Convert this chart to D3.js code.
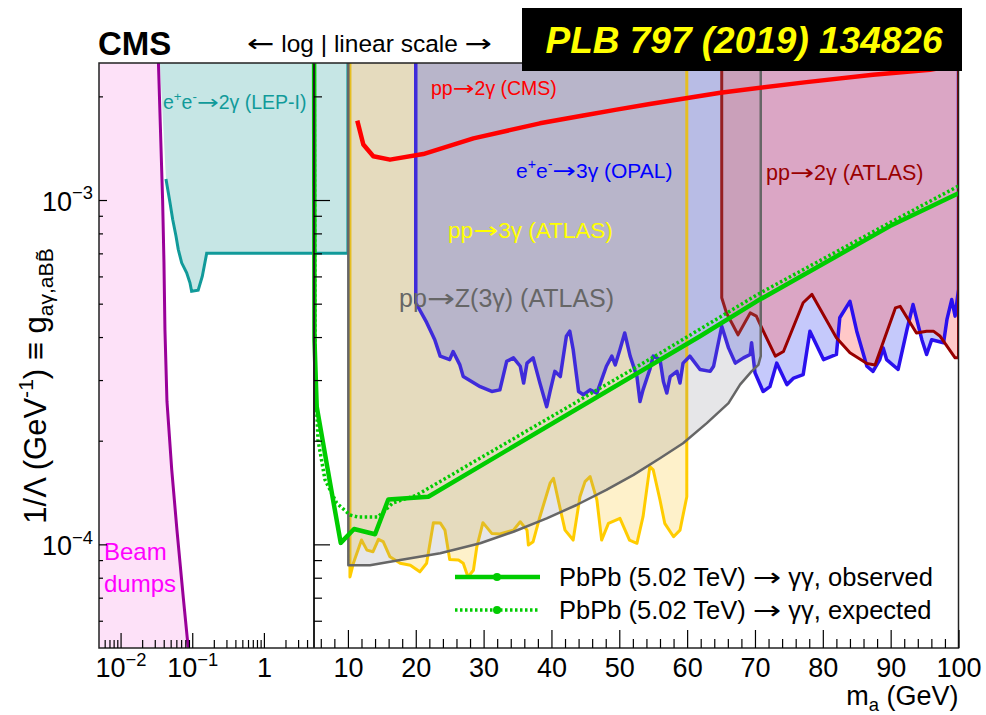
<!DOCTYPE html>
<html>
<head>
<meta charset="utf-8">
<script src="https://cdn.jsdelivr.net/npm/d3@7"></script>
<style>
    body { margin: 0; background: #fff; }
    svg { display: block; font-family: "Liberation Sans", Arial, Helvetica, sans-serif; }
</style>
</head>
<body>
<svg id="chart" width="986" height="715"></svg>
<script>
// ===== Data: [mass m_a (GeV), coupling 1/Λ (GeV^-1)] =====
const beamDumps = [
    [0.0315, 4.0e-3], [0.0386, 1.0e-3], [0.0403, 6.6e-4], [0.0416, 4.2e-4],
    [0.0444, 2.6e-4], [0.0517, 1.65e-4], [0.0612, 1.1e-4], [0.075, 7.0e-5],
    [0.0879, 5.0e-5], [0.092, 4.5e-5]
];

const lepLimit = [
    [0.0430, 1.15e-3], [0.0489, 9.83e-4], [0.0533, 8.79e-4], [0.0593, 7.86e-4],
    [0.0638, 7.19e-4], [0.0712, 6.57e-4], [0.0836, 6.15e-4], [0.0929, 5.75e-4],
    [0.098, 5.43e-4], [0.121, 5.47e-4], [0.138, 6.0e-4], [0.159, 7.0e-4],
    [10.0, 7.0e-4]
];

const opalLimit = [
    [20.0, 5.03e-4], [21.6, 4.41e-4], [22.8, 3.93e-4], [23.6, 3.52e-4], [25.0, 3.44e-4],
    [25.5, 3.63e-4], [26.5, 3.32e-4], [27.0, 3.07e-4], [29.5, 2.87e-4], [31.2, 2.78e-4],
    [32.4, 2.81e-4], [33.4, 3.40e-4], [34.4, 3.48e-4], [35.4, 3.29e-4], [35.9, 2.94e-4],
    [36.4, 3.36e-4], [37.3, 3.48e-4], [38.3, 2.94e-4], [39.3, 2.51e-4], [39.8, 2.78e-4],
    [40.5, 3.18e-4], [41.3, 3.07e-4], [42.2, 4.02e-4], [42.7, 4.16e-4], [43.2, 3.68e-4],
    [44.0, 2.78e-4], [44.7, 2.72e-4], [45.7, 2.81e-4], [46.7, 2.75e-4], [47.4, 3.01e-4],
    [48.1, 3.29e-4], [48.9, 3.52e-4], [49.4, 3.32e-4], [50.1, 3.68e-4], [50.8, 4.11e-4],
    [51.6, 3.52e-4], [52.6, 3.07e-4], [53.05, 2.60e-4], [53.5, 2.81e-4], [54.5, 3.22e-4],
    [55.0, 3.52e-4], [56.0, 3.44e-4], [56.5, 2.97e-4], [57.0, 2.75e-4], [57.5, 3.07e-4],
    [58.5, 3.18e-4], [58.95, 2.94e-4], [59.4, 3.36e-4], [60.4, 3.52e-4], [61.9, 3.22e-4],
    [63.4, 3.18e-4], [63.9, 3.29e-4], [65.1, 4.30e-4], [66.1, 3.72e-4], [67.1, 3.36e-4],
    [68.3, 3.48e-4], [69.3, 3.56e-4], [69.5, 3.85e-4], [70.0, 3.15e-4], [71.2, 2.78e-4],
    [72.2, 2.87e-4], [73.2, 3.36e-4], [74.7, 2.91e-4], [75.7, 3.04e-4], [77.1, 3.11e-4],
    [78.1, 4.16e-4], [80.1, 3.44e-4], [82.0, 3.56e-4], [82.5, 4.55e-4], [84.0, 5.08e-4],
    [85.0, 4.16e-4], [86.5, 3.29e-4], [87.4, 3.18e-4], [88.4, 3.44e-4], [88.9, 3.72e-4],
    [89.4, 3.44e-4], [91.1, 3.22e-4], [92.4, 4.20e-4], [93.3, 4.97e-4], [94.6, 3.93e-4],
    [95.3, 3.56e-4], [96.05, 3.93e-4], [97.8, 3.85e-4], [98.3, 4.50e-4], [99.0, 5.14e-4],
    [99.5, 4.60e-4], [100.0, 5.5e-4]
];

const atlas2gLimit = [
    [65.1, 5.2e-4], [65.8, 4.7e-4], [67.5, 4.06e-4], [69.3, 4.7e-4], [70.2, 4.6e-4],
    [71.0, 4.25e-4], [73.0, 3.52e-4], [74.2, 3.63e-4], [77.1, 5.03e-4], [78.4, 5.32e-4],
    [82.0, 3.98e-4], [84.0, 3.6e-4], [86.5, 3.35e-4], [87.7, 3.32e-4], [90.7, 4.86e-4],
    [91.4, 4.91e-4], [93.8, 4.11e-4], [95.3, 4.16e-4], [96.3, 4.16e-4], [97.3, 4.02e-4],
    [99.5, 3.48e-4], [100.0, 3.48e-4]
];

const atlas3gLimit = [
    [10.3, 8.04e-5], [10.8, 8.81e-5], [12.0, 1.03e-4], [12.8, 9.62e-5], [13.7, 9.52e-5],
    [14.5, 1.034e-4], [15.2, 1.018e-4], [16.2, 9.2e-5], [17.7, 8.81e-5], [19.2, 8.7e-5],
    [20.6, 8.32e-5], [21.6, 8.81e-5], [22.6, 1.156e-4], [23.6, 1.154e-4], [24.3, 1.10e-4],
    [25.0, 9.04e-5], [26.3, 9.0e-5], [27.0, 8.81e-5], [27.7, 8.04e-5], [28.5, 8.41e-5],
    [29.0, 9.84e-5], [29.9, 1.156e-4], [31.2, 1.076e-4], [32.4, 1.072e-4], [34.4, 1.10e-4],
    [35.4, 1.163e-4], [36.4, 1.10e-4], [36.6, 9.95e-5], [37.3, 1.018e-4], [38.3, 1.203e-4],
    [39.8, 1.505e-4], [40.3, 1.556e-4], [41.0, 1.345e-4], [42.0, 1.10e-4], [43.2, 1.029e-4],
    [44.2, 1.375e-4], [44.95, 1.521e-4], [45.7, 1.573e-4], [46.7, 1.345e-4], [47.4, 1.029e-4],
    [48.4, 1.151e-4], [50.1, 1.19e-4], [51.5, 1.029e-4], [52.6, 1.007e-4], [53.5, 1.203e-4],
    [54.5, 1.682e-4], [55.0, 1.645e-4], [56.0, 1.345e-4], [56.7, 1.151e-4], [58.0, 1.052e-4],
    [58.95, 1.10e-4], [59.95, 1.375e-4]
];

const atlasZ3gLimit = [
    [10.06, 8.7e-5], [13.25, 8.7e-5], [17.7, 9.0e-5], [23.6, 9.42e-5], [29.5, 1.007e-4],
    [34.4, 1.088e-4], [39.3, 1.19e-4], [43.7, 1.301e-4], [48.1, 1.439e-4], [52.1, 1.591e-4],
    [56.0, 1.779e-4], [59.4, 1.967e-4], [62.9, 2.25e-4], [66.1, 2.57e-4], [67.8, 2.91e-4],
    [69.5, 3.18e-4], [70.5, 3.32e-4], [70.85, 3.52e-4]
];

const cmsPP2g = [
    [11.38, 1.70e-3], [12.27, 1.45e-3], [13.74, 1.34e-3], [16.2, 1.31e-3], [21.1, 1.36e-3],
    [28.5, 1.51e-3], [38.3, 1.67e-3], [44.7, 1.76e-3], [49.6, 1.83e-3], [54.5, 1.90e-3],
    [64.9, 2.05e-3], [77.6, 2.20e-3], [87.4, 2.31e-3], [95.8, 2.39e-3], [100, 2.47e-3]
];

const pbpbObserved = [
    [5.0, 5.0e-3], [5.07, 3.93e-4], [5.4, 2.51e-4], [7.36, 1.51e-4], [8.94, 1.01e-4],
    [10.9, 1.108e-4], [14.0, 1.07e-4], [15.95, 1.35e-4], [21.85, 1.375e-4], [61.9, 4.02e-4],
    [70.25, 5.08e-4], [89.9, 8.4e-4], [100, 1.046e-3]
];

const pbpbExpected = [
    [5.0, 5.0e-3], [5.15, 3.22e-4], [5.59, 2.01e-4], [6.62, 1.54e-4], [8.34, 1.318e-4],
    [10.3, 1.217e-4], [11.5, 1.20e-4], [14.4, 1.20e-4], [16.65, 1.32e-4], [20.15, 1.39e-4],
    [55.7, 3.56e-4], [70.4, 5.32e-4], [89.9, 8.6e-4], [100, 1.098e-3]
];

// tick values
const xLogMajor = [0.01, 0.1, 1];
const xLogMinor = [0.006, 0.007, 0.008, 0.009, 0.02, 0.03, 0.04, 0.05, 0.06, 0.07, 0.08, 0.09,
    0.2, 0.3, 0.4, 0.5, 0.6, 0.7, 0.8, 0.9, 2, 3, 4];
const xLinMajor = [10, 20, 30, 40, 50, 60, 70, 80, 90, 100];
const xLinMinor = d3.range(6, 100, 2).filter(v => v % 10 !== 0);
const yMajor = [1e-4, 1e-3];
const yMinor = [6e-5, 7e-5, 8e-5, 9e-5, 2e-4, 3e-4, 4e-4, 5e-4, 6e-4, 7e-4, 8e-4, 9e-4, 2e-3];

// ===== Layout =====
const frame = { left: 99, right: 958.5, top: 63, bottom: 648 };
const xSplit = 314;
const TOP = 4e-3;           // excluded regions run off the top of the frame
const FS = 27;
const ARROW_FONT = '"DejaVu Sans", sans-serif';

const svg = d3.select('#chart');

// ===== Scales: log below 5 GeV, linear above =====
const xLog = d3.scaleLog().domain([0.005, 5]).range([frame.left, xSplit]);
const xLin = d3.scaleLinear().domain([5, 100]).range([xSplit, frame.right]);
const x = m => m < 5 ? xLog(m) : xLin(m);
const y = d3.scaleLog().domain([5e-5, 2.5e-3]).range([frame.bottom, frame.top]);

const line = d3.line().x(d => x(d[0])).y(d => y(d[1]));

// excluded area lies above the limit curve
function upTo(pts) {
    return [[pts[0][0], TOP], ...pts, [pts[pts.length - 1][0], TOP]];
}

// text with super/subscripts; arrows stretched to look like ROOT's long arrow
function addRich(parent, parts, fs) {
    let shift = 0;
    parts.forEach(([str, kind]) => {
        const target = kind === 'sup' ? -0.42 * fs : kind === 'sub' ? 0.24 * fs : 0;
        const size = kind ? fs * 0.68 : fs;
        str.split(/([←→])/).filter(s => s !== '').forEach((seg, i) => {
            const t = parent.append('tspan').attr('font-size', size).text(seg);
            if (/[←→]/.test(seg)) {
                t.attr('font-family', ARROW_FONT)
                    .attr('textLength', size * 1.12)
                    .attr('lengthAdjust', 'spacingAndGlyphs');
            }
            if (i === 0 && target - shift !== 0) t.attr('dy', target - shift);
        });
        shift = target;
    });
}

// ===== Plot area =====
svg.append('defs').append('clipPath').attr('id', 'plot-clip')
    .append('rect')
    .attr('x', frame.left).attr('y', frame.top)
    .attr('width', frame.right - frame.left)
    .attr('height', frame.bottom - frame.top);

const plot = svg.append('g').attr('clip-path', 'url(#plot-clip)');

// LEP-I e+e- -> 2 gamma
plot.append('path')
    .attr('d', line([[0.0315, TOP], ...lepLimit, [10.0, TOP]]) + 'Z')
    .attr('fill', '#c6e6e5');
plot.append('path')
    .attr('d', line([...lepLimit, [10.0, TOP]]))
    .attr('fill', 'none').attr('stroke', '#119a9a').attr('stroke-width', 3);

// Beam dumps
plot.append('path')
    .attr('d', line([[0.004, TOP], ...beamDumps, [0.004, 4.5e-5]]) + 'Z')
    .attr('fill', '#fde1f8');
plot.append('path')
    .attr('d', line(beamDumps))
    .attr('fill', 'none').attr('stroke', '#990099').attr('stroke-width', 3);

// translucent fills
const fills = [
    { pts: atlas3gLimit, fill: 'rgba(250,200,50,0.26)' },
    { pts: opalLimit, fill: 'rgba(95,105,245,0.36)' },
    { pts: atlas2gLimit, fill: 'rgba(255,110,110,0.38)' }
];
fills.forEach(f => {
    plot.append('path').attr('d', line(upTo(f.pts)) + 'Z').attr('fill', f.fill);
});

// limit lines
const limits = [
    { pts: atlas3gLimit, color: '#ffcc00', w: 3 },
    { pts: opalLimit, color: '#2a10ee', w: 3.5 },
    { pts: atlas2gLimit, color: '#990000', w: 3 }
];
limits.forEach(l => {
    plot.append('path').attr('d', line(upTo(l.pts)))
        .attr('fill', 'none').attr('stroke', l.color).attr('stroke-width', l.w)
        .attr('stroke-linejoin', 'round');
});

// ATLAS Z(3 gamma) sits on top and greys the lines below
plot.append('path').attr('d', line(upTo(atlasZ3gLimit)) + 'Z')
    .attr('fill', 'rgba(140,140,150,0.22)');
plot.append('path').attr('d', line(upTo(atlasZ3gLimit)))
    .attr('fill', 'none').attr('stroke', '#666').attr('stroke-width', 2.5)
    .attr('stroke-linejoin', 'round');

// CMS pp -> 2 gamma
plot.append('path').attr('d', line(cmsPP2g))
    .attr('fill', 'none').attr('stroke', '#ff0000').attr('stroke-width', 4.5)
    .attr('stroke-linejoin', 'round');

// PbPb limits
plot.append('path').attr('d', line(pbpbExpected))
    .attr('fill', 'none').attr('stroke', '#00cc00').attr('stroke-width', 3.5)
    .attr('stroke-dasharray', '2.5,2.5');
plot.append('path').attr('d', line(pbpbObserved))
    .attr('fill', 'none').attr('stroke', '#00cc00').attr('stroke-width', 4.5)
    .attr('stroke-linejoin', 'round');

// ===== Region labels =====
const labels = [
    { x: 163, y: 109, fs: 19.5, color: '#119a9a', parts: [['e'], ['+', 'sup'], ['e'], ['-', 'sup'], ['→2γ (LEP-I)']] },
    { x: 431, y: 95, fs: 19.5, color: '#ff0000', parts: [['pp→2γ (CMS)']] },
    { x: 516, y: 178, fs: 21, color: '#0000ff', parts: [['e'], ['+', 'sup'], ['e'], ['-', 'sup'], ['→3γ (OPAL)']] },
    { x: 448, y: 238, fs: 22.5, color: '#ffff00', parts: [['pp→3γ (ATLAS)']] },
    { x: 399, y: 307, fs: 25, color: '#666666', parts: [['pp→Z(3γ) (ATLAS)']] },
    { x: 766, y: 180, fs: 21.5, color: '#990000', parts: [['pp→2γ (ATLAS)']] },
    { x: 104, y: 560, fs: 24, color: '#ff00ff', parts: [['Beam']] },
    { x: 104, y: 592, fs: 24, color: '#ff00ff', parts: [['dumps']] }
];
labels.forEach(l => {
    const t = svg.append('text').attr('x', l.x).attr('y', l.y).attr('fill', l.color);
    addRich(t, l.parts, l.fs);
});

// ===== Frame & axes =====
svg.append('rect')
    .attr('x', frame.left).attr('y', frame.top)
    .attr('width', frame.right - frame.left).attr('height', frame.bottom - frame.top)
    .attr('fill', 'none').attr('stroke', '#222').attr('stroke-width', 1.5);

svg.append('line')
    .attr('x1', xSplit).attr('x2', xSplit)
    .attr('y1', frame.top).attr('y2', frame.bottom)
    .attr('stroke', '#222').attr('stroke-width', 2);

function styleAxis(g) {
    g.attr('font-family', null).attr('font-size', FS);
    g.select('.domain').remove();
    g.selectAll('.tick line').attr('stroke', '#000').attr('stroke-width', 1.2);
}

// bottom: log part
svg.append('g').attr('transform', `translate(0,${frame.bottom})`)
    .call(d3.axisBottom(xLog).tickValues(xLogMinor).tickSize(-8).tickFormat(''))
    .call(styleAxis);
svg.append('g').attr('transform', `translate(0,${frame.bottom})`)
    .call(d3.axisBottom(xLog).tickValues(xLogMajor).tickSize(-15).tickPadding(0))
    .call(styleAxis)
    .call(g => g.selectAll('text')
        .attr('dy', null).attr('y', 29).attr('fill', '#000').text(null)
        .each(function (d) {
            const t = d3.select(this);
            if (d === 1) t.text('1');
            else addRich(t, [['10'], ['−' + Math.round(-Math.log10(d)), 'sup']], FS);
        }));

// bottom: linear part
svg.append('g').attr('transform', `translate(0,${frame.bottom})`)
    .call(d3.axisBottom(xLin).tickValues(xLinMinor).tickSize(-9).tickFormat(''))
    .call(styleAxis);
svg.append('g').attr('transform', `translate(0,${frame.bottom})`)
    .call(d3.axisBottom(xLin).tickValues(xLinMajor).tickSize(-18).tickPadding(0).tickFormat(d3.format('d')))
    .call(styleAxis)
    .call(g => g.selectAll('text').attr('dy', null).attr('y', 29).attr('fill', '#000'));

// left axis
svg.append('g').attr('transform', `translate(${frame.left},0)`)
    .call(d3.axisLeft(y).tickValues(yMinor).tickSize(-4).tickFormat(''))
    .call(styleAxis);
svg.append('g').attr('transform', `translate(${frame.left},0)`)
    .call(d3.axisLeft(y).tickValues(yMajor).tickSize(-8).tickPadding(0))
    .call(styleAxis)
    .call(g => g.selectAll('text')
        .attr('dy', null).attr('x', -6).attr('y', 10).attr('fill', '#000').text(null)
        .each(function (d) {
            addRich(d3.select(this), [['10'], ['−' + Math.round(-Math.log10(d)), 'sup']], FS);
        }));

// middle axis at the log/linear split
svg.append('g').attr('transform', `translate(${xSplit},0)`)
    .call(d3.axisRight(y).tickValues(yMinor).tickSize(8).tickFormat(''))
    .call(styleAxis);
svg.append('g').attr('transform', `translate(${xSplit},0)`)
    .call(d3.axisRight(y).tickValues(yMajor).tickSize(16).tickFormat(''))
    .call(styleAxis);

// axis titles
const xTitle = svg.append('text')
    .attr('x', frame.right).attr('y', 705).attr('text-anchor', 'end').attr('fill', '#000');
addRich(xTitle, [['m'], ['a', 'sub'], [' (GeV)']], FS);

const yTitle = svg.append('text')
    .attr('transform', 'translate(46,386) rotate(-90)')
    .attr('text-anchor', 'middle').attr('fill', '#000');
addRich(yTitle, [['1/Λ (GeV'], ['-1', 'sup'], [') ≡ g'], ['aγ,aBB̃', 'sub']], 31);

// ===== Header =====
svg.append('text')
    .attr('x', 98).attr('y', 55)
    .attr('font-size', 33).attr('font-weight', 'bold')
    .text('CMS');

const header = svg.append('text').attr('x', 247).attr('y', 52);
addRich(header, [['← log | linear scale →']], 24.5);

svg.append('rect')
    .attr('x', 522).attr('y', 8).attr('width', 440).attr('height', 63)
    .attr('fill', '#000');
svg.append('text')
    .attr('x', 744).attr('y', 53).attr('text-anchor', 'middle')
    .attr('font-size', 37).attr('font-weight', 'bold').attr('font-style', 'italic')
    .attr('fill', '#ffff00')
    .text('PLB 797 (2019) 134826');

// ===== Legend =====
const legendRows = [
    { y: 577, dash: null, label: 'PbPb (5.02 TeV) → γγ, observed', w: 4.5 },
    { y: 610, dash: '2.5,2.5', label: 'PbPb (5.02 TeV) → γγ, expected', w: 3.5 }
];
const legend = svg.append('g');
legendRows.forEach(r => {
    legend.append('line')
        .attr('x1', 455).attr('x2', 540).attr('y1', r.y).attr('y2', r.y)
        .attr('stroke', '#00cc00').attr('stroke-width', r.w)
        .attr('stroke-dasharray', r.dash);
    legend.append('circle')
        .attr('cx', 497).attr('cy', r.y).attr('r', 4).attr('fill', '#00cc00');
    const t = legend.append('text').attr('x', 559).attr('y', r.y + 9);
    addRich(t, [[r.label]], 25.5);
});
</script>
</body>
</html>
